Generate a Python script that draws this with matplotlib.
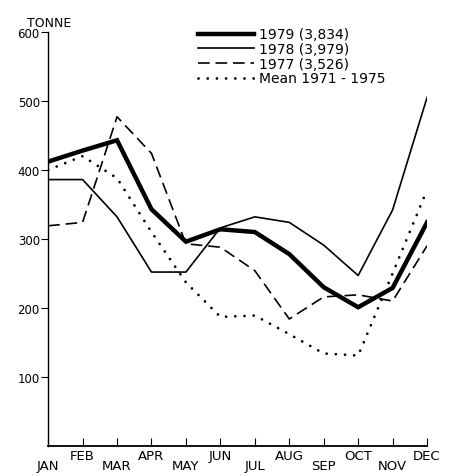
import matplotlib
matplotlib.use('Agg')
import matplotlib.pyplot as plt

# monthly landings, tonne
months = ['JAN', 'FEB', 'MAR', 'APR', 'MAY', 'JUN',
          'JUL', 'AUG', 'SEP', 'OCT', 'NOV', 'DEC']
y1979 = [412, 428, 443, 343, 296, 314, 310, 278, 230, 201, 229, 324]
y1978 = [386, 386, 332, 252, 252, 316, 332, 324, 291, 247, 342, 505]
y1977 = [319, 324, 477, 424, 293, 288, 254, 184, 216, 219, 210, 290]
mean7175 = [400, 420, 388, 310, 237, 187, 189, 162, 134, 131, 250, 371]
labels = ['1979 (3,834)', '1978 (3,979)', '1977 (3,526)', 'Mean 1971 - 1975']
yticks = [100, 200, 300, 400, 500, 600]

fig = plt.figure(figsize=(4.5, 4.77), dpi=100)
ax = fig.add_axes([0.107, 0.063, 0.842, 0.868])

x = list(range(len(months)))
ax.plot(x, y1979, color='black', lw=3.2, solid_joinstyle='miter', label=labels[0])
ax.plot(x, y1978, color='black', lw=1.2, label=labels[1])
ax.plot(x, y1977, color='black', lw=1.2, linestyle=(0, (7, 3.5)), label=labels[2])
ax.plot(x, mean7175, color='black', lw=2.0, linestyle=(0, (0.01, 3.3)),
        dash_capstyle='round', label=labels[3])

ax.set_xlim(0, 11)
ax.set_ylim(0, 600)
for s in ['top', 'right']:
    ax.spines[s].set_visible(False)
ax.spines['left'].set_linewidth(1.0)
ax.spines['bottom'].set_linewidth(1.3)

ax.set_yticks(yticks)
ax.set_yticklabels([str(v) for v in yticks], fontsize=8.5)
ax.tick_params(axis='y', direction='out', length=5, width=0.8, pad=1)

ax.set_xticks(x)
ax.set_xticklabels([])
ax.tick_params(axis='x', direction='in', length=6, width=0.8)
for i, m in enumerate(months):
    off = -0.022 if i % 2 else -0.048
    ax.text(i, off, m, transform=ax.get_xaxis_transform(), ha='center', va='center',
            fontsize=9.5)

ax.text(-0.056, 1.008, 'TONNE', transform=ax.transAxes, ha='left', va='bottom', fontsize=9)

ax.legend(loc='upper left', bbox_to_anchor=(0.425, 0.955), bbox_transform=fig.transFigure,
          frameon=False, fontsize=10, handlelength=4.0, handletextpad=0.35,
          labelspacing=0.05, borderpad=0)

fig.savefig('out.png', dpi=100)
